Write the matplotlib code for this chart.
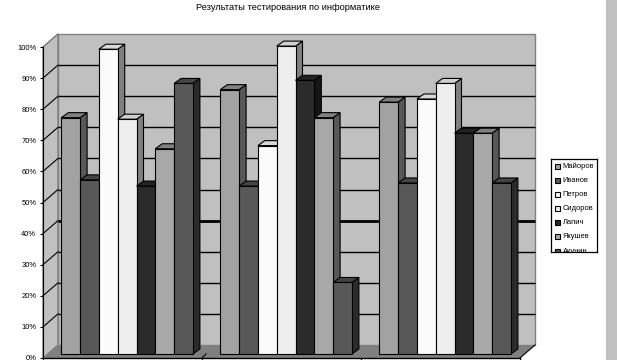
import matplotlib
matplotlib.use('Agg')
import matplotlib.pyplot as plt
from matplotlib.patches import Rectangle

plt.rcParams['font.family'] = ['Liberation Sans', 'DejaVu Sans']

# data
names = ['Майоров', 'Иванов', 'Петров', 'Сидоров', 'Лапич', 'Якушев', 'Акунин']
group1 = [76, 56, 98, 75.5, 54, 66, 87]
group2 = [85, 54, 67, 99, 88, 76, 23]
group3 = [81, 55, 82, 87, 71, 71, 55]
groups = [group1, group2, group3]
percent_ticks = list(range(0, 101, 10))

front = ['#a2a2a2', '#585858', '#fbfbfb', '#eeeeee', '#2b2b2b', '#a8a8a8', '#585858']
side = ['#585858', '#2b2b2b', '#808080', '#808080', '#151515', '#585858', '#2b2b2b']
top = ['#808080', '#444444', '#d8d8d8', '#d0d0d0', '#222222', '#808080', '#444444']

W, H = 617, 360
fig = plt.figure(figsize=(W / 100, H / 100), dpi=100, facecolor='white')

# grey band at right side of the screenshot
fig.add_artist(Rectangle((606 / W, 0), 11 / W, 1, transform=fig.transFigure,
                         facecolor='#c0c0c0', edgecolor='none'))

# axes = front plane of the 3D box
ax = fig.add_axes([43 / W, 1 - 358 / H, 477 / W, 311 / H])
ax.set_xlim(0, 3)
ax.set_ylim(0, 100)
ax.patch.set_visible(False)
px_x = 3 / 477
px_y = 100 / 311
wall_dx = 15 * px_x
wall_dy = 13 * px_y

# walls and floor
ax.fill([0, wall_dx, wall_dx, 0], [0, wall_dy, 100 + wall_dy, 100], facecolor='#c0c0c0',
        edgecolor='#808080', lw=1, clip_on=False, zorder=0)
ax.fill([wall_dx, 3 + wall_dx, 3 + wall_dx, wall_dx], [wall_dy, wall_dy, 100 + wall_dy, 100 + wall_dy],
        facecolor='#c0c0c0', edgecolor='#808080', lw=1, clip_on=False, zorder=0)
ax.fill([0, wall_dx, 3 + wall_dx, 3], [0, wall_dy, wall_dy, 0], facecolor='#808080',
        edgecolor='none', clip_on=False, zorder=0.1)

# gridlines, 40% is thicker in the original
for p in percent_ticks[1:-1]:
    lw = 2 if p == 40 else 1
    ax.plot([wall_dx, 3 + wall_dx], [p + wall_dy, p + wall_dy], color='black', lw=lw,
            clip_on=False, zorder=0.2, solid_capstyle='butt')
for p in percent_ticks[1:]:
    ax.plot([0, wall_dx], [p, p + wall_dy], color='black' if p < 100 else '#808080', lw=0.8,
            clip_on=False, zorder=0.2)
ax.plot([3, 3 + wall_dx], [0, wall_dy], color='black', lw=0.8, clip_on=False, zorder=0.2)
ax.plot([1, 1 + 4 * px_x], [0, 4 * px_y], color='black', lw=0.8, clip_on=False, zorder=0.2)

# bars
bar_w = 18.8 * px_x
base_x = 18.3 * px_x
base_y = 4 * px_y
dx = 7 * px_x
dy = 5 * px_y
for g, values in enumerate(groups):
    start = g + base_x
    for i, v in enumerate(values):
        x0 = start + i * bar_w
        x1 = x0 + bar_w
        y1 = base_y + v
        ax.fill([x1, x1 + dx, x1 + dx, x1], [base_y, base_y + dy, y1 + dy, y1], facecolor=side[i],
                edgecolor='black', lw=0.8, zorder=1, clip_on=False)
        ax.fill([x0, x0 + dx, x1 + dx, x1], [y1, y1 + dy, y1 + dy, y1], facecolor=top[i],
                edgecolor='black', lw=0.8, zorder=1, clip_on=False)
        ax.bar(x0, v, width=bar_w, bottom=base_y, align='edge', color=front[i],
               edgecolor='black', lw=0.8, zorder=1, clip_on=False)

ax.spines['top'].set_visible(False)
ax.spines['right'].set_visible(False)
ax.spines['left'].set_linewidth(0.8)
ax.spines['bottom'].set_linewidth(1)
ax.set_yticks(percent_ticks)
ax.set_yticklabels([str(p) + '%' for p in percent_ticks], fontsize=5.5)
ax.set_xticks([0, 1, 2, 3])
ax.set_xticklabels([])
ax.tick_params(axis='y', length=2.2, width=0.8, pad=2.5)
ax.tick_params(axis='x', length=2.2, width=0.8)

fig.text(288 / W, 1 - 7 / H, 'Результаты тестирования по информатике', fontsize=6.7,
         ha='center', va='center')

# legend, its last entry is cut off by the box like in the original
leg = fig.add_axes([551 / W, 1 - 252 / H, 46 / W, 93 / H])
leg.set_xlim(551, 597)
leg.set_ylim(252, 159)
leg.set_xticks([])
leg.set_yticks([])
for s in leg.spines.values():
    s.set_linewidth(0.9)
for i, name in enumerate(names):
    yc = 166.5 + i * 14.1
    leg.add_patch(Rectangle((555, yc - 2.5), 5, 5, facecolor=front[i], edgecolor='black', lw=0.8))
    leg.text(562.5, yc, name, fontsize=5.4, va='center', ha='left', clip_on=True)

fig.savefig('out.png', dpi=100)
